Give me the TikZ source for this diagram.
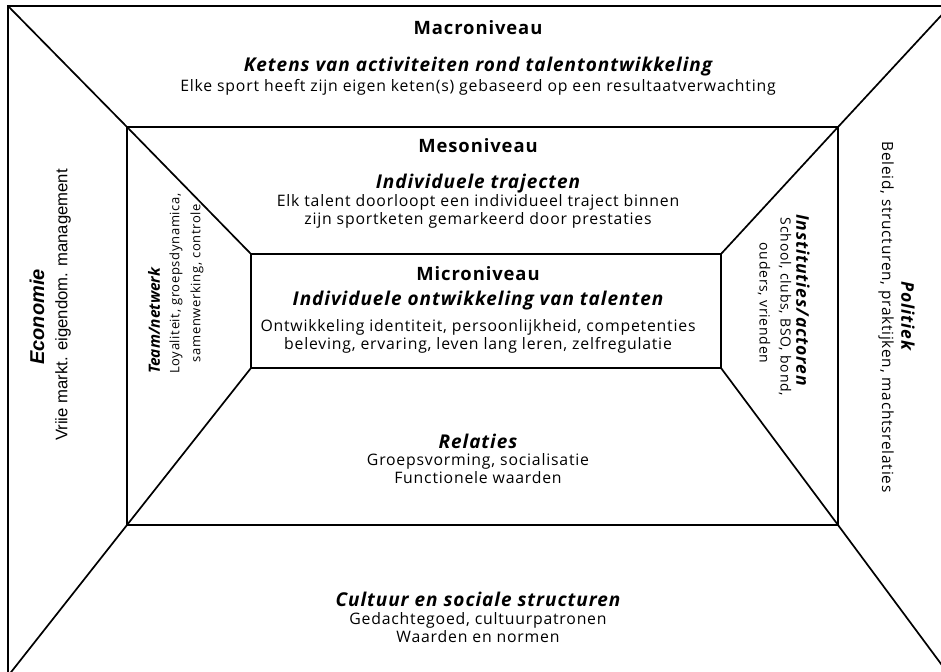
\documentclass[tikz,border=0pt]{standalone}
\usepackage{fontspec}
\setmainfont{Open Sans}[LetterSpace=5]
\newfontfamily\tightfont{Open Sans}
\newfontfamily\arialfont{Liberation Sans}
\begin{document}
\begin{tikzpicture}[x=1pt,y=-1pt,
  frame/.style={line width=1.7pt},
  lvl/.style={anchor=base,font=\fontsize{18.4}{22}\selectfont\bfseries},
  ttl/.style={anchor=base,font=\fontsize{19}{22}\selectfont\bfseries\itshape},
  txt/.style={anchor=base,font=\fontsize{15.8}{18}\selectfont},
  vttl/.style={font=\fontsize{17.5}{20}\selectfont\bfseries\itshape},
  vtxt/.style={font=\fontsize{15.4}{18}\selectfont},
  stxt/.style={font=\fontsize{13}{16}\selectfont},
  inner sep=0pt]
\useasboundingbox (0,0) rectangle (941,671);
\clip (0,0) rectangle (941,671);

% corners of the three nested frames
\coordinate (o1) at (8,6);     \coordinate (o2) at (950,6);
\coordinate (o3) at (950,676); \coordinate (o4) at (8,676);
\coordinate (m1) at (127,127); \coordinate (m2) at (838,127);
\coordinate (m3) at (838,525); \coordinate (m4) at (127,525);
\coordinate (i1) at (251,254); \coordinate (i2) at (721,254);
\coordinate (i3) at (721,368); \coordinate (i4) at (251,368);

\draw[frame] (o1) -- (o2) -- (o3) -- (o4) -- cycle;
\draw[frame] (m1) -- (m2) -- (m3) -- (m4) -- cycle;
\draw[frame] (i1) -- (i2) -- (i3) -- (i4) -- cycle;
\draw[frame] (o1) -- (m1) (m1) -- (i1);
\draw[frame] (o2) -- (m2) (m2) -- (i2);
\draw[frame] (o3) -- (m3) (m3) -- (i3);
\draw[frame] (o4) -- (m4) (m4) -- (i4);

% top: macro level
\node[lvl] (macro) at (478,35) {Macroniveau};
\node[ttl] (ketens) at (478,72) {Ketens van activiteiten rond talentontwikkeling};
\node[txt] (elke) at (478,92) {Elke sport heeft zijn eigen keten(s) gebaseerd op een resultaatverwachting};

% meso level
\node[lvl] (meso) at (478,153) {Mesoniveau};
\node[ttl] (traj) at (478,188) {Individuele trajecten};
\node[txt] (traj1) at (478,206) {Elk talent doorloopt een individueel traject binnen};
\node[txt] (traj2) at (478,224) {zijn sportketen gemarkeerd door prestaties};

% micro level
\node[lvl] (micro) at (478,280) {Microniveau};
\node[ttl] (ontw) at (478,305) {Individuele ontwikkeling van talenten};
\node[txt] (ontw1) at (478,331) {Ontwikkeling identiteit, persoonlijkheid, competenties};
\node[txt] (ontw2) at (478,349) {beleving, ervaring, leven lang leren, zelfregulatie};

% lower inner trapezium
\node[ttl] (rel) at (478,448) {Relaties};
\node[txt] (rel1) at (478,465) {Groepsvorming, socialisatie};
\node[txt] (rel2) at (478,483) {Functionele waarden};

% bottom trapezium
\node[ttl] (cult) at (478,606) {Cultuur en sociale structuren};
\node[txt] (cult1) at (478,624) {Gedachtegoed, cultuurpatronen};
\node[txt] (cult2) at (478,642) {Waarden en normen};

% left trapezium
\node[rotate=90,font=\arialfont\fontsize{20}{22}\selectfont\bfseries\itshape] (eco) at (37,317) {Economie};
\node[rotate=90,font=\arialfont\fontsize{16.7}{19}\selectfont] (eco1) at (63,305) {Vriie markt. eigendom. management};

% left inner trapezium
\node[rotate=90,anchor=west,font=\tightfont\fontsize{15.5}{18}\selectfont\bfseries\itshape] (team) at (154,374) {Team/netwerk};
\node[stxt,rotate=90,anchor=west] (team1) at (176,374) {Loyaliteit, groepsdynamica,};
\node[stxt,rotate=90] (team2) at (197,283) {samenwerking, controle};

% right inner trapezium
\node[vttl,rotate=-90] (inst) at (803,300) {Instituties/actoren};
\node[vtxt,rotate=-90,font=\fontsize{14}{17}\selectfont] (inst1) at (785,307) {School, clubs, BSO, bond,};
\node[vtxt,rotate=-90,font=\fontsize{14}{17}\selectfont] (inst2) at (764,303) {ouders, vrienden};

% right trapezium
\node[vttl,rotate=-90] (pol) at (908,316) {Politiek};
\node[vtxt,rotate=-90] (pol1) at (886,317) {Beleid, structuren, praktijken, machtsrelaties};
\end{tikzpicture}
\end{document}
